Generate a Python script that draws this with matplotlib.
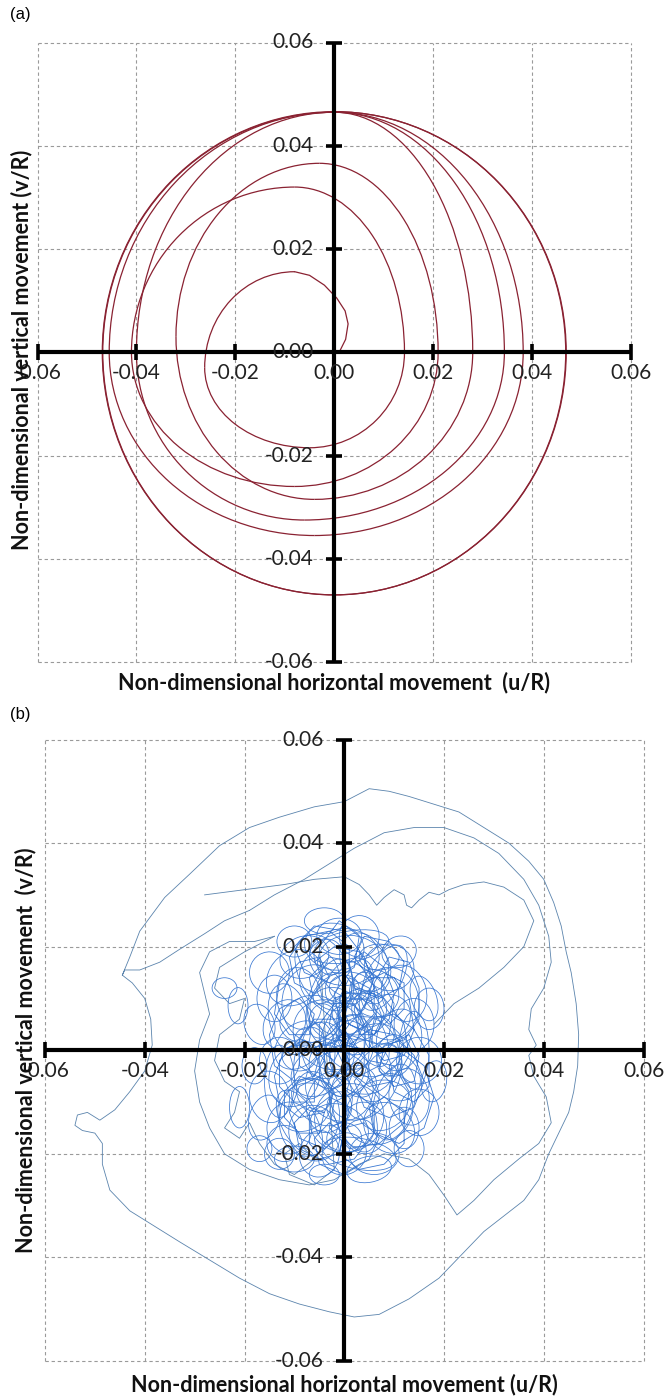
import numpy as np
import matplotlib
matplotlib.use("Agg")
import matplotlib.pyplot as plt
from matplotlib.patches import Arc, Ellipse
from matplotlib.transforms import offset_copy

# ---- axis text -------------------------------------------------------------
TICKS = [-0.06, -0.04, -0.02, 0.0, 0.02, 0.04, 0.06]
TICK_LABELS = ["-0.06", "-0.04", "-0.02", "0.00", "0.02", "0.04", "0.06"]
XLABEL_A = "Non-dimensional horizontal movement  (u/R)"
YLABEL_A = "Non-dimensional vertical movement (v/R)"
XLABEL_B = "Non-dimensional horizontal movement (u/R)"
YLABEL_B = "Non-dimensional vertical movement  (v/R)"

# ---- (a) orbit, units of 1e-3 R ----------------------------------------------
# start hook leaving the origin
hook_a = [(1, 0), (2.3, 2.5), (2.8, 5.5), (2.2, 8), (0.5, 10.5), (-2, 13),
          (-5, 14.9), (-8, 15.6)]
# extreme points of each revolution, in order top, left, bottom, right, ...
turns_a = [
    (-8, 15.6), (-26.2, -3), (-5, -18.5), (14.2, 0),
    (-8, 32), (-41, 0), (-8, -26), (21, 0),
    (-3, 36.6), (-32, 3), (-4, -28.5), (28, 0),
    (0, 46.5), (-40, 0), (-6, -32.5), (34.4, 0),
    (0, 46.5), (-45.5, 0), (-4, -35.5), (38.2, 0),
    (0, 46.5), (-46.8, 0), (0, -47), (46.8, 0),
    (0, 46.6), (-46.9, 0), (0, -47), (46.9, 0),
    (0, 46.6),
]

# ---- (b) orbit pieces, units of 1e-3 R ---------------------------------------
outer_b = [
    (-44.5, 14.5), (-43, 18), (-41, 23), (-36, 29.5), (-31, 34), (-25, 39.5),
    (-19, 43), (-13, 45), (-6, 47), (0, 48), (5, 50.5), (9, 50), (13, 49),
    (18, 47.5), (23, 46), (28, 43), (33, 40), (37, 36.5), (40, 33), (42, 28.5),
    (43.5, 24), (44.5, 19), (45.5, 15), (46.5, 9), (47, 3), (46.8, -3), (46, -8),
    (45, -12), (43, -16), (41, -20), (39, -25), (36, -29), (32, -32), (28, -35),
    (24, -39), (19, -44), (13, -48), (7, -51), (2, -51.5), (-3, -50.5), (-9, -49),
    (-15, -47), (-21, -44), (-27, -40.5), (-33, -37), (-38, -34), (-43, -31),
    (-47, -27), (-48.5, -22), (-48.5, -18), (-50, -16), (-52.5, -15.5),
    (-54, -14.5), (-53.5, -12.5), (-51.5, -12), (-49, -13.5), (-46, -11.5),
    (-43, -8), (-40, -4), (-38.5, 1), (-38.8, 6), (-40, 10), (-42.5, 13),
    (-44.5, 14.5), (-44, 15.5), (-41, 15.5), (-37, 17), (-33, 19.5), (-28, 22.5),
    (-24, 25), (-19, 27),
]
mid_b = [
    (-19, 27), (-14, 30), (-8, 33), (-3, 36), (2, 39), (8, 42), (14, 43), (20, 43),
    (26, 41), (31, 38), (36, 33), (39, 28), (41, 22), (41.5, 17), (40, 12),
    (37.5, 8), (37, 4), (38.5, 1), (37, -1), (38, -5), (40.5, -9), (41.5, -14),
    (39, -18), (35, -21), (30, -25), (26, -29), (22.6, -31.8), (20, -28), (17, -24),
    (13, -21), (8, -20), (3, -22), (-2, -25), (-7, -26), (-13, -25), (-19, -23),
    (-24, -20), (-27, -15), (-29, -10), (-30, -4), (-29, 2), (-27, 7), (-28, 11),
    (-29, 15), (-27, 19), (-23, 21), (-18, 21), (-14, 22),
]
tooth_b = [
    (-28, 30), (-20, 31), (-12, 32), (-6, 33), (0, 33.5), (3, 32), (5, 30),
    (6.5, 28), (8, 29.5), (10, 31), (12, 30), (12.5, 28), (13.5, 27.5), (15, 29),
    (17, 30.5), (19, 30), (21, 31), (24, 32), (28, 32.5), (32, 31.5), (36, 29),
    (38, 25), (36, 20), (32, 16), (27, 12), (22, 9), (18, 5),
]
petal_b = [
    (-14, 22), (-20, 19), (-25, 16), (-26, 12), (-23, 9), (-20, 10), (-21, 6),
    (-25, 3), (-26, -2), (-24, -6), (-21, -8), (-22, -12), (-24, -15), (-21, -17),
    (-19, -14), (-17, -18), (-14, -22), (-10, -24), (-6, -21), (-9, -18),
    (-12, -20), (-11, -24), (-6, -26), (-2, -23), (-5, 20),
]
core_b = [
    (-5, 20), (-1, 25), (3, 22), (2, 16), (-3, 13), (-8, 15), (-10, 20), (-6, 24),
    (0, 23), (4, 18), (6, 12), (3, 7), (-2, 6), (-6, 9), (-7, 14), (-3, 18),
    (2, 17), (7, 14), (10, 9), (9, 3), (5, 0), (0, 1), (-3, 5), (-2, 10), (3, 12),
    (8, 10), (12, 5), (13, -1), (10, -6), (5, -7), (1, -4), (1, 1), (5, 4), (10, 3),
    (14, -1), (16, -6), (14, -11), (9, -13), (4, -11), (2, -6), (5, -2), (10, -3),
    (13, -8), (12, -14), (7, -18), (1, -19), (-3, -15), (-2, -10), (2, -8),
    (6, -11), (6, -16), (2, -21), (-3, -22), (-7, -18), (-7, -12), (-3, -9),
    (1, -11), (0, -16), (-4, -19), (-9, -17), (-11, -12), (-9, -7), (-5, -5),
    (-2, -8), (-4, -12), (-9, -13), (-13, -10), (-14, -5), (-12, 0), (-8, 2),
    (-5, -1), (-6, -5), (-10, -6), (-14, -3), (-15, 3), (-13, 8), (-9, 10),
    (-6, 7), (-7, 3), (-11, 3), (-14, 7), (-13, 13), (-9, 17), (-5, 18), (-3, 14),
    (-6, 11), (-10, 13), (-11, 18), (-8, 22), (-3, 23), (1, 20), (1, 15),
    (-2, 11), (-1, 6), (3, 4), (6, 7), (5, 12), (1, 14), (-1, 10), (1, 5), (6, 3),
    (9, 6), (10, 11), (8, 16), (4, 19), (1, 17), (2, 12), (7, 10), (11, 12),
    (12, 17), (9, 21), (4, 22), (2, 18), (5, 14), (10, 14), (13, 10), (14, 4),
    (12, -1), (8, -2), (5, 1), (6, 6), (10, 7), (14, 4), (17, -1), (17, -7),
    (14, -10), (10, -8), (9, -3), (12, 0), (16, -3), (18, -9), (16, -15),
    (11, -18), (6, -16), (5, -11), (8, -9), (12, -12), (12, -18), (8, -22),
    (3, -23), (-1, -20), (0, -15), (4, -14), (7, -17), (5, -21), (0, -24),
    (-5, -22), (-6, -17), (-3, -14), (0, -16), (-1, -20), (-5, -21), (-9, -19),
    (-10, -14), (-7, -11), (-4, -12), (-5, -16), (-9, -16), (-12, -13), (-12, -8),
    (-9, -5), (-6, -6), (-6, -10), (-10, -10), (-13, -7), (-13, -2), (-10, 1),
    (-6, 1), (-4, -2), (-6, -5), (-9, -3), (-9, 2), (-6, 6), (-2, 6), (0, 2),
    (-2, -2), (-5, 0), (-5, 5), (-2, 9), (2, 9), (4, 5), (2, 1), (-1, 2), (-1, 7),
    (2, 11), (6, 11), (8, 7), (6, 3), (3, 3), (2, 8), (4, 13), (8, 15), (12, 13),
    (12, 8), (9, 5), (6, 8), (6, 13), (9, 18), (13, 17), (15, 12), (15, 6),
    (12, 2), (8, 1), (7, -4), (10, -7), (14, -6), (15, -1), (13, 3), (9, 1),
    (7, -3), (3, -5), (0, -2), (1, 3), (4, 2), (4, -3), (0, -6), (-4, -4),
    (-4, 1), (-1, 2), (1, -2), (-2, -5), (-3, 0), (0, 4), (3, 0), (0, -3),
    (-2, 1), (1, 5), (4, 8), (6, 14), (3, 19), (-2, 20), (-6, 17),
]
# small loops of the tangled core: centre x, centre y, width, height, tilt (deg)
loops_b = [
    (-8, 18, 10, 8, 20), (-2, 20, 12, 9, -10), (4, 17, 9, 12, 30), (-5, 14, 8, 10, 0),
    (1, 13, 11, 8, 45), (6, 11, 10, 9, -20), (-9, 10, 9, 12, 10), (-12, 5, 8, 10, -30),
    (-7, 6, 12, 9, 15), (-2, 7, 10, 11, 60), (3, 6, 9, 8, 0), (8, 6, 11, 9, 30),
    (11, 2, 9, 12, -10), (6, 0, 12, 10, 20), (1, 1, 10, 9, -45), (-4, 0, 9, 11, 10),
    (-9, 1, 11, 8, 40), (-13, -2, 8, 9, 0), (-10, -5, 10, 12, -20), (-5, -4, 12, 9, 30),
    (0, -4, 10, 10, 0), (5, -4, 9, 12, 15), (10, -5, 11, 9, -30), (13, -9, 8, 11, 10),
    (8, -10, 12, 10, 45), (2, -9, 10, 9, 0), (-3, -10, 9, 12, -15), (-8, -11, 11, 9, 25),
    (-11, -15, 9, 10, 0), (-6, -16, 10, 11, 30), (-1, -15, 12, 9, -20), (4, -15, 9, 10, 10),
    (9, -15, 11, 9, -40), (6, -20, 10, 8, 0), (0, -20, 9, 8, 20), (-5, -20, 8, 9, -10),
    (-1, 22, 9, 7, 0), (3, 22, 8, 8, 20), (9, 16, 10, 9, -10), (12, 11, 9, 11, 15),
    (14, 5, 8, 10, 0), (15, -2, 9, 9, 30), (15, -12, 8, 9, 0), (-14, 10, 7, 9, 0),
    (-15, 15, 8, 8, 30), (-15, -9, 8, 10, 10), (0, 9, 14, 12, 20), (-3, 3, 15, 13, -30),
    (4, -1, 14, 15, 10), (-1, -7, 13, 14, 50), (2, 16, 15, 12, -20), (-6, 9, 13, 15, 0),
    (7, -12, 14, 12, 30), (-7, -13, 12, 15, -10), (9, 9, 12, 14, 0), (-10, 14, 12, 10, 40),
    (0, 18, 14, 11, 0), (1, -13, 14, 13, 20), (-2, 12, 7, 6, 0), (2, 3, 7, 8, 30),
    (-1, -1, 6, 7, 0), (3, -6, 7, 6, -20), (-4, 5, 6, 8, 10), (5, 8, 7, 7, 0),
    (-6, -8, 7, 8, 30), (7, 3, 6, 7, 0), (0, -17, 7, 6, 0), (-3, 18, 6, 7, 20),
    (10, -1, 7, 8, 0), (-9, -1, 7, 6, 0), (12, -15, 6, 8, 0), (-12, -18, 7, 7, 0),
    (-17, 5, 6, 8, 20), (-18, -3, 5, 7, 0), (17, 8, 6, 8, 0), (18, -6, 5, 8, -10),
    (-4, 25, 8, 5, 0), (5, -23, 9, 5, 10), (-10, 21, 7, 6, 0), (11, 19, 7, 6, 20),
    (-13, -20, 6, 6, 0), (13, -19, 6, 7, 0), (-21.3, 8.6, 4, 7, 0), (-21, -11, 4, 8, 0),
    (-24, 12, 5, 4, 0), (-4, -24, 6, 4, 0), (-17, -19, 5, 5, 0),
    (-3, 10, 16, 8, 70), (4, 4, 16, 7, -60), (-6, -2, 15, 8, 80), (2, -12, 16, 8, -70),
    (8, 14, 14, 7, 60), (-9, -14, 14, 7, -60), (10, -10, 15, 8, 75), (-11, 6, 14, 8, -75),
    (0, 0, 18, 10, 85), (1, 20, 16, 6, 10), (3, -20, 15, 6, -10), (-13, -6, 6, 14, 0),
    (14, 0, 6, 15, 0), (-4, 15, 10, 16, 30), (6, -6, 9, 16, -30), (-5, -10, 8, 12, 60),
    (7, 18, 8, 5, 0), (-10, -21, 8, 5, 0), (16, 10, 5, 9, 20), (-16, -13, 6, 9, -20),
    (0, 12, 6, 5, 0), (-1, -11, 5, 6, 0), (5, 12, 5, 7, 45), (-7, 2, 6, 5, 0),
    (9, -2, 5, 6, 0), (3, -16, 6, 5, 30), (-3, -3, 8, 9, 20), (2, 7, 9, 8, -20),
]

RED = "#8a2232"
BLUE_OUT = "#5b84ad"
BLUE_IN = "#3a78d2"
GRID = "#9a9a9a"


def xy(points):
    arr = np.array(points, dtype=float) / 1000.0
    return arr[:, 0], arr[:, 1]


def frame(fig, ax, xlabel, ylabel, ylab_x, ylab_y, xlab_y):
    ax.set_xlim(-0.06, 0.06)
    ax.set_ylim(-0.06, 0.06)
    ax.axis("off")
    for t in TICKS:
        ax.plot([t, t], [-0.06, 0.06], color=GRID, lw=0.8, ls=(0, (3, 2.5)),
                clip_on=False, zorder=1)
        ax.plot([-0.06, 0.06], [t, t], color=GRID, lw=0.8, ls=(0, (3, 2.5)),
                clip_on=False, zorder=1)
    ax.plot([-0.06, 0.06], [0, 0], color="k", lw=3.0, solid_capstyle="butt",
            clip_on=False, zorder=4)
    ax.plot([0, 0], [-0.06, 0.06], color="k", lw=3.0, solid_capstyle="butt",
            clip_on=False, zorder=4)
    ax.plot(TICKS, [0] * len(TICKS), ls="none", marker="|", ms=11, mew=2.6,
            color="k", clip_on=False, zorder=4)
    ax.plot([0] * len(TICKS), TICKS, ls="none", marker="_", ms=11, mew=2.6,
            color="k", clip_on=False, zorder=4)

    below = offset_copy(ax.transData, fig=fig, y=-15, units="points")
    left = offset_copy(ax.transData, fig=fig, x=-15, units="points")
    for t, lab in zip(TICKS, TICK_LABELS):
        ax.text(t, 0, lab, transform=below, ha="center", va="center",
                fontsize=15, family="Lato", color="#222222", zorder=5)
        ax.text(0, t, lab, transform=left, ha="right", va="center",
                fontsize=15, family="Lato", color="#222222", zorder=5)

    pos = ax.get_position()
    fig.text(pos.x0 + pos.width / 2, xlab_y, xlabel, ha="center", va="center",
             fontsize=15.5, family="Lato", weight="bold", color="#111111")
    fig.text(ylab_x, ylab_y, ylabel, ha="center", va="center", rotation=90,
             fontsize=15.5, family="Lato", weight="bold", color="#111111")


W, H = 667, 1397
fig = plt.figure(figsize=(W / 100, H / 100), dpi=100)

# panel (a)
ax_a = fig.add_axes([37.5 / W, 1 - 662 / H, 593.5 / W, 619.5 / H])
frame(fig, ax_a, XLABEL_A, YLABEL_A, 22 / W, 1 - 350 / H, 1 - 683 / H)
xh, yh = xy(hook_a)
ax_a.plot(xh, yh, color=RED, lw=0.9, zorder=2)
xt, yt = xy(turns_a)
# each quarter turn joins two successive extreme points with a quarter ellipse
# (top->left, left->bottom, bottom->right, right->top)
for i in range(len(xt) - 1):
    x0, y0, x1, y1 = xt[i], yt[i], xt[i + 1], yt[i + 1]
    q = i % 4
    if q == 0:      # top -> left
        c, w, h, t0 = (x0, y1), 2 * (x0 - x1), 2 * (y0 - y1), 90
    elif q == 1:    # left -> bottom
        c, w, h, t0 = (x1, y0), 2 * (x1 - x0), 2 * (y0 - y1), 180
    elif q == 2:    # bottom -> right
        c, w, h, t0 = (x0, y1), 2 * (x1 - x0), 2 * (y1 - y0), 270
    else:           # right -> top
        c, w, h, t0 = (x1, y0), 2 * (x0 - x1), 2 * (y1 - y0), 0
    ax_a.add_patch(Arc(c, w, h, theta1=t0, theta2=t0 + 90, color=RED, lw=0.9,
                       zorder=2))
fig.text(10 / W, 1 - 14 / H, "(a)", ha="left", va="center", fontsize=12,
         family="Liberation Sans")

# panel (b)
ax_b = fig.add_axes([45 / W, 1 - 1361 / H, 598.5 / W, 621.5 / H])
frame(fig, ax_b, XLABEL_B, YLABEL_B, 26 / W, 1 - 1050 / H, 1 - 1385 / H)
for pts, col in [(outer_b, BLUE_OUT), (mid_b, BLUE_OUT), (tooth_b, BLUE_OUT),
                 (petal_b, BLUE_OUT), (core_b, BLUE_IN)]:
    xb, yb = xy(pts)
    ax_b.plot(xb, yb, color=col, lw=0.6, zorder=2)
for cx, cy, w, h, ang in loops_b:
    ax_b.add_patch(Ellipse((cx / 1000, cy / 1000), w / 1000, h / 1000, angle=ang,
                           fill=False, edgecolor=BLUE_IN, lw=0.55, zorder=2))
fig.text(10 / W, 1 - 715 / H, "(b)", ha="left", va="center", fontsize=12,
         family="Liberation Sans")

fig.savefig("out.png", dpi=100)
